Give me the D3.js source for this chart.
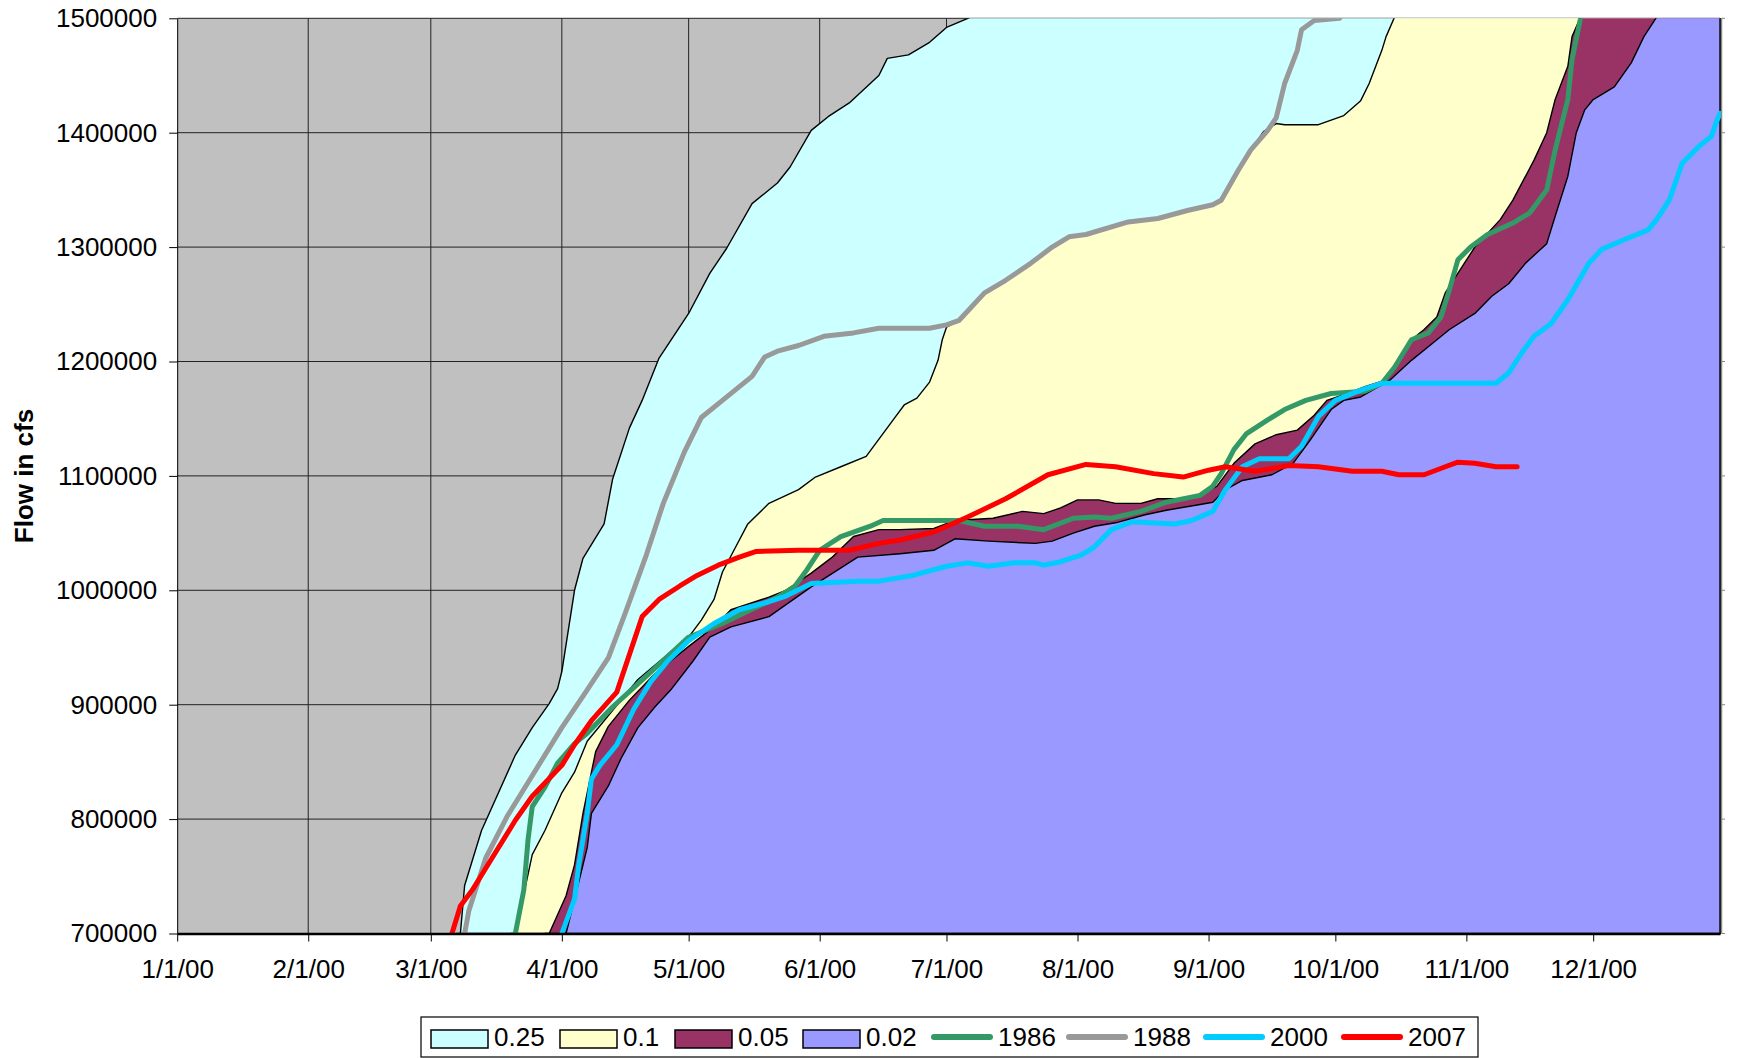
<!DOCTYPE html>
<html lang="en">
<head>
<meta charset="UTF-8">
<script src="https://d3js.org/d3.v7.min.js"></script>
<title>Cumulative flow</title>
<style>
  body { margin: 0; background: #fff; }
  svg text { font-family: "Liberation Sans", Arial, sans-serif; fill: #000; }
  .axis text { font-size: 26px; }
  .axis path, .axis line { stroke: #000; }
</style>
</head>
<body>
<svg width="1737" height="1058"></svg>
<script>
// [days after 1/1/00, cumulative flow in cfs]
const p25 = [[66,620000],[67,700000],[68,742000],[72,790000],[80,856000],[84,880000],[88,901000],[90,914000],[91,929000],[94,1000000],[96,1028000],[101,1058000],[103,1097000],[107,1142000],[110,1166000],[114,1203000],[121,1242000],[126,1277000],[130,1299000],[136,1338000],[142,1356000],[145,1370000],[150,1402000],[154,1414000],[159,1426000],[166,1450000],[168,1465000],[173,1468000],[178,1479000],[182,1492000],[189,1503000],[365,1900000]];
const p10 = [[79,640000],[80,700000],[84,769000],[87,790000],[91,823000],[94,841000],[97,868000],[101,886000],[109,922000],[117,947000],[121,959000],[124,974000],[127,992000],[129,1016000],[132,1037000],[135,1058000],[140,1076000],[147,1088000],[151,1099000],[157,1108000],[163,1117000],[170,1152000],[172,1162000],[175,1168000],[178,1182000],[180,1201000],[181,1219000],[182,1230000],[185,1236000],[191,1260000],[196,1271000],[202,1286000],[207,1300000],[211,1309000],[215,1311000],[225,1322000],[232,1325000],[239,1332000],[245,1337000],[247,1341000],[251,1367000],[254,1385000],[257,1401000],[260,1408000],[262,1407000],[270,1407000],[273,1411000],[276,1415000],[280,1428000],[282,1443000],[285,1472000],[286,1484000],[288,1501000],[365,1800000]];
const p05 = [[87,650000],[88,700000],[92,733000],[94,760000],[96,805000],[98,841000],[99,859000],[102,881000],[107,904000],[113,927000],[121,951000],[127,968000],[131,983000],[140,994000],[144,1000000],[150,1015000],[155,1029000],[160,1047000],[166,1053000],[171,1053000],[179,1054000],[184,1061000],[193,1063000],[200,1069000],[205,1067000],[209,1072000],[213,1079000],[218,1079000],[222,1076000],[228,1076000],[232,1080000],[237,1080000],[242,1083000],[246,1091000],[250,1111000],[255,1128000],[260,1136000],[265,1140000],[269,1153000],[272,1166000],[276,1171000],[281,1178000],[286,1184000],[289,1201000],[292,1219000],[295,1228000],[298,1239000],[300,1260000],[304,1283000],[307,1300000],[310,1312000],[313,1324000],[316,1341000],[321,1376000],[324,1400000],[326,1429000],[329,1458000],[330,1484000],[332,1501000],[365,1900000]];
const p02 = [[91,650000],[92,700000],[95,745000],[97,775000],[98,805000],[102,829000],[105,853000],[109,880000],[113,898000],[117,914000],[122,938000],[126,959000],[131,968000],[140,977000],[150,1003000],[161,1029000],[171,1032000],[179,1035000],[184,1045000],[192,1043000],[203,1041000],[207,1043000],[212,1050000],[217,1056000],[222,1059000],[229,1066000],[234,1070000],[242,1075000],[245,1077000],[248,1088000],[252,1096000],[259,1101000],[264,1111000],[268,1131000],[273,1158000],[276,1166000],[280,1169000],[287,1184000],[292,1201000],[297,1216000],[301,1228000],[307,1242000],[311,1257000],[315,1268000],[319,1286000],[324,1303000],[326,1327000],[329,1362000],[331,1400000],[333,1420000],[335,1429000],[340,1440000],[344,1461000],[347,1484000],[350,1501000],[365,1600000]];

const y1986 = [[78,660000],[80,700000],[82,738000],[83,782000],[84,811000],[87,828000],[90,849000],[94,866000],[97,875000],[103,898000],[111,925000],[121,959000],[129,971000],[134,980000],[142,994000],[146,1003000],[149,1018000],[152,1035000],[157,1047000],[164,1056000],[167,1061000],[185,1061000],[191,1056000],[199,1056000],[205,1053000],[212,1063000],[217,1064000],[221,1063000],[228,1069000],[234,1077000],[242,1083000],[245,1091000],[247,1102000],[250,1123000],[253,1137000],[258,1149000],[262,1158000],[267,1166000],[273,1172000],[281,1174000],[285,1181000],[288,1195000],[292,1219000],[296,1225000],[299,1239000],[301,1263000],[303,1289000],[306,1300000],[310,1311000],[316,1321000],[320,1330000],[324,1350000],[326,1385000],[329,1429000],[330,1464000],[332,1500000],[334,1530000]];
const y1988 = [[66,682000],[68,700000],[69,720000],[73,766000],[78,802000],[83,832000],[91,880000],[97,913000],[102,941000],[106,980000],[111,1031000],[115,1076000],[120,1121000],[124,1151000],[129,1166000],[136,1187000],[139,1204000],[142,1209000],[147,1214000],[153,1222000],[160,1225000],[166,1229000],[178,1229000],[182,1232000],[185,1236000],[191,1260000],[196,1271000],[202,1286000],[207,1300000],[211,1309000],[215,1311000],[225,1322000],[232,1325000],[239,1332000],[245,1337000],[247,1341000],[251,1367000],[254,1385000],[258,1402000],[260,1413000],[262,1443000],[265,1472000],[266,1490000],[269,1498000],[275,1500000],[278,1515000]];
const y2000 = [[90,650000],[91,700000],[94,730000],[95,760000],[97,805000],[98,835000],[100,847000],[104,865000],[108,896000],[112,920000],[116,938000],[121,956000],[127,971000],[133,983000],[140,990000],[144,995000],[150,1006000],[161,1008000],[166,1008000],[174,1013000],[182,1021000],[187,1024000],[192,1021000],[198,1024000],[203,1024000],[205,1022000],[209,1025000],[214,1031000],[217,1038000],[221,1053000],[226,1060000],[236,1058000],[240,1061000],[245,1069000],[248,1088000],[252,1108000],[256,1115000],[263,1115000],[266,1126000],[270,1152000],[274,1166000],[280,1175000],[285,1181000],[312,1181000],[315,1190000],[318,1207000],[321,1222000],[325,1233000],[329,1254000],[334,1286000],[337,1298000],[342,1306000],[348,1315000],[350,1324000],[353,1341000],[356,1373000],[360,1388000],[363,1397000],[364,1408000],[365,1417000]];
const y2007 = [[64,650000],[65,700000],[67,724000],[70,739000],[73,757000],[80,799000],[84,820000],[91,847000],[94,865000],[98,886000],[104,911000],[107,944000],[110,977000],[114,992000],[119,1004000],[123,1013000],[128,1022000],[133,1029000],[137,1034000],[147,1035000],[159,1035000],[166,1041000],[171,1044000],[179,1051000],[187,1064000],[196,1080000],[206,1101000],[215,1110000],[222,1108000],[231,1102000],[238,1099000],[244,1105000],[248,1108000],[255,1104000],[263,1109000],[270,1108000],[278,1104000],[285,1104000],[289,1101000],[295,1101000],[300,1108000],[303,1112000],[307,1111000],[312,1108000],[317,1108000]];

const flowTicks = [700000, 800000, 900000, 1000000, 1100000, 1200000, 1300000, 1400000, 1500000];
const bandNames = ["0.25", "0.1", "0.05", "0.02"];
const yearNames = ["1986", "1988", "2000", "2007"];

const bands = [
    {name: bandNames[0], data: p25, color: "#CCFFFF"},
    {name: bandNames[1], data: p10, color: "#FFFFCC"},
    {name: bandNames[2], data: p05, color: "#993366"},
    {name: bandNames[3], data: p02, color: "#9999FF"}
];
const years = [
    {name: yearNames[0], data: y1986, color: "#339966"},
    {name: yearNames[1], data: y1988, color: "#999999"},
    {name: yearNames[2], data: y2000, color: "#00CCFF"},
    {name: yearNames[3], data: y2007, color: "#FF0000"}
];

const plotL = 177.2, plotR = 1720, plotT = 18.3, plotB = 933.5;
const start = new Date(Date.UTC(2000, 0, 1));
const end = new Date(Date.UTC(2000, 11, 31));
const day = d => d3.utcDay.offset(start, d);
const monthStarts = d3.utcMonths(start, end);

const x = d3.scaleUtc().domain([start, end]).range([plotL, plotR]);
const y = d3.scaleLinear().domain([700000, 1500000]).range([plotB, plotT]);

const svg = d3.select("svg");

// plot background + grid
svg.append("rect").attr("x", plotL).attr("y", plotT)
        .attr("width", plotR - plotL).attr("height", plotB - plotT)
        .attr("fill", "#C0C0C0");
svg.append("g").selectAll("line").data(flowTicks.slice(1)).enter().append("line")
        .attr("x1", plotL).attr("x2", plotR)
        .attr("y1", y).attr("y2", y)
        .attr("stroke", "#222").attr("stroke-width", 1);
svg.append("g").selectAll("line").data(monthStarts.slice(1)).enter().append("line")
        .attr("x1", x).attr("x2", x)
        .attr("y1", plotT).attr("y2", plotB)
        .attr("stroke", "#222").attr("stroke-width", 1);

svg.append("clipPath").attr("id", "plot").append("rect")
        .attr("x", plotL).attr("y", plotT)
        .attr("width", plotR - plotL + 2).attr("height", plotB - plotT + 1);

const area = d3.area()
        .x(d => x(day(d[0])))
        .y0(plotB)
        .y1(d => y(d[1]));
const line = d3.line()
        .x(d => x(day(d[0])))
        .y(d => y(d[1]));

const plot = svg.append("g").attr("clip-path", "url(#plot)");
plot.selectAll("path.band").data(bands).enter().append("path")
        .attr("class", "band")
        .attr("d", d => area(d.data))
        .attr("fill", d => d.color)
        .attr("stroke", "#000").attr("stroke-width", 1.4)
        .attr("stroke-linejoin", "round");
plot.selectAll("path.year").data(years).enter().append("path")
        .attr("class", "year")
        .attr("d", d => line(d.data))
        .attr("fill", "none")
        .attr("stroke", d => d.color).attr("stroke-width", 5)
        .attr("stroke-linejoin", "round").attr("stroke-linecap", "round");

// right border with small ticks
svg.append("line").attr("x1", plotR + 1.5).attr("x2", plotR + 1.5)
        .attr("y1", plotT).attr("y2", plotB)
        .attr("stroke", "#888").attr("stroke-width", 1.5);
svg.append("g").selectAll("line").data(flowTicks).enter().append("line")
        .attr("x1", plotR + 1.5).attr("x2", plotR + 5)
        .attr("y1", y).attr("y2", y)
        .attr("stroke", "#888");

// axes
svg.append("g").attr("class", "axis")
        .attr("transform", `translate(${plotL},0)`)
        .call(d3.axisLeft(y).tickValues(flowTicks).tickFormat(d3.format("d"))
                .tickSize(8).tickSizeOuter(0).tickPadding(12));
const xa = svg.append("g").attr("class", "axis")
        .attr("transform", `translate(0,${plotB})`)
        .call(d3.axisBottom(x).tickValues(monthStarts).tickFormat(d3.utcFormat("%-m/%-d/%y"))
                .tickSize(8).tickSizeOuter(0).tickPadding(18));
xa.select(".domain").attr("stroke-width", 2.5);

svg.append("text")
        .attr("transform", "translate(33,476) rotate(-90)")
        .attr("text-anchor", "middle")
        .style("font-size", "26px").style("font-weight", "bold")
        .text("Flow in cfs");

// legend
const legendX = [431, 560, 675, 803, 931, 1066, 1203, 1341];
const lg = svg.append("g");
lg.append("rect").attr("x", 421).attr("y", 1017).attr("width", 1057).attr("height", 40)
        .attr("fill", "#fff").attr("stroke", "#000").attr("stroke-width", 1.2);
bands.forEach((b, i) => {
    lg.append("rect").attr("x", legendX[i]).attr("y", 1030).attr("width", 57).attr("height", 18)
            .attr("fill", b.color).attr("stroke", "#000").attr("stroke-width", 1.5);
    lg.append("text").attr("x", legendX[i] + 63).attr("y", 1046)
            .style("font-size", "26px").text(b.name);
});
years.forEach((s, i) => {
    const lx = legendX[i + 4];
    lg.append("line").attr("x1", lx + 3).attr("x2", lx + 59).attr("y1", 1037).attr("y2", 1037)
            .attr("stroke", s.color).attr("stroke-width", 6).attr("stroke-linecap", "round");
    lg.append("text").attr("x", lx + 67).attr("y", 1046)
            .style("font-size", "26px").text(s.name);
});
</script>
</body>
</html>
